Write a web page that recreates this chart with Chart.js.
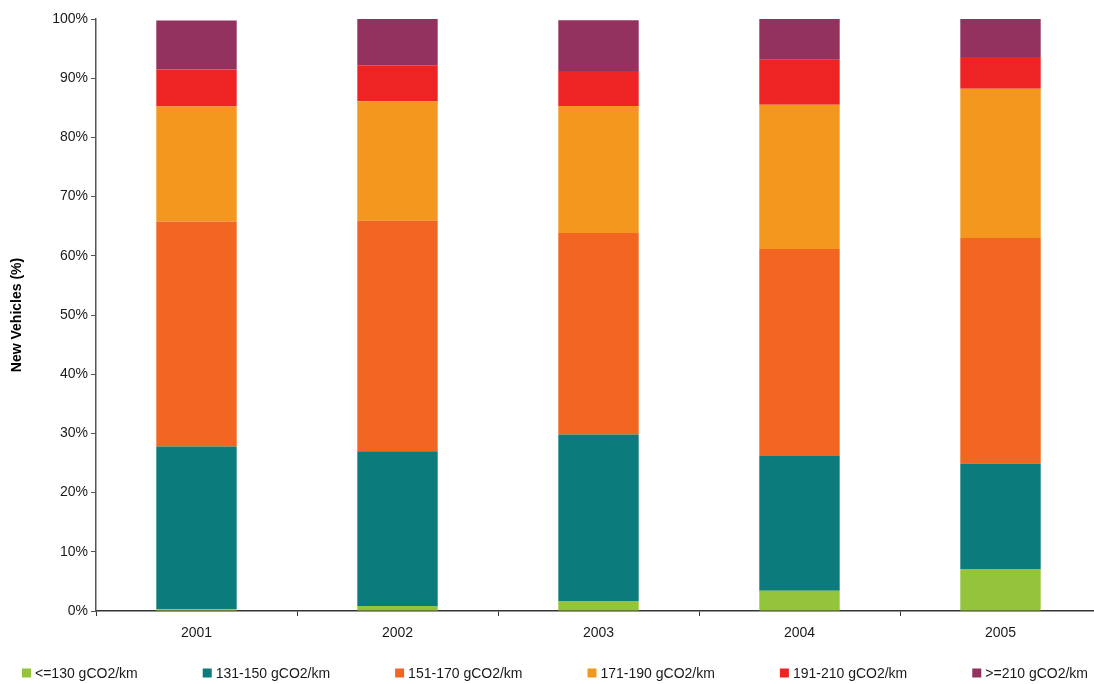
<!DOCTYPE html>
<html>
<head>
<meta charset="utf-8">
<script src="https://cdn.jsdelivr.net/npm/chart.js@4"></script>
<style>
  html, body { margin: 0; padding: 0; background: #fff; overflow: hidden; }
  #wrap { width: 1101px; height: 684px; position: relative; }
</style>
</head>
<body>
<div id="wrap"><canvas id="co2Chart"></canvas></div>
<script>
  // kategori tahun
  const years = ["2001", "2002", "2003", "2004", "2005"];
  const yTicks = [0, 10, 20, 30, 40, 50, 60, 70, 80, 90, 100];

  // persen kendaraan baru per kelas emisi
  const le130   = [0.3, 0.85, 1.7, 3.4, 7.1];
  const g131150 = [27.5, 26.15, 28.1, 22.8, 17.8];
  const g151170 = [38.0, 38.9, 34.05, 34.95, 38.1];
  const g171190 = [19.4, 20.2, 21.45, 24.35, 25.2];
  const g191210 = [6.25, 6.1, 5.9, 7.6, 5.4];
  const ge210   = [8.3, 7.8, 8.6, 6.9, 6.4];

  Chart.defaults.font.family = "'Liberation Sans', Arial, sans-serif";
  Chart.defaults.color = '#1a1a1a';

  function seri(label, data, color) {
    return {
      label: label,
      data: data,
      backgroundColor: color,
      borderWidth: 0,
      barPercentage: 0.4,
      categoryPercentage: 1.0
    };
  }

  // legend bawah: kotak kecil + teks, jarak antar item lebar tapi satu baris
  const legendBawah = {
    id: 'legendBawah',
    afterDraw(chart) {
      const ctx = chart.ctx;
      const box = 9, gap = 4, antar = 65, cy = 673;
      ctx.save();
      ctx.font = "14px 'Liberation Sans', Arial, sans-serif";
      ctx.textBaseline = 'middle';
      ctx.textAlign = 'left';
      const items = chart.data.datasets.map(function(ds) {
        return { text: ds.label, color: ds.backgroundColor, w: box + gap + ctx.measureText(ds.label).width };
      });
      let total = items.reduce(function(s, it) { return s + it.w; }, 0) + antar * (items.length - 1);
      let x = 555 - total / 2;
      items.forEach(function(it) {
        ctx.fillStyle = it.color;
        ctx.fillRect(x, cy - box / 2, box, box);
        ctx.fillStyle = '#1a1a1a';
        ctx.fillText(it.text, x + box + gap, cy + 1);
        x += it.w + antar;
      });
      ctx.restore();
    }
  };

  new Chart(document.getElementById('co2Chart'), {
    type: 'bar',
    data: {
      labels: years,
      datasets: [
        seri("<=130 gCO2/km", le130, "#94c43c"),
        seri("131-150 gCO2/km", g131150, "#0c7b7b"),
        seri("151-170 gCO2/km", g151170, "#f36622"),
        seri("171-190 gCO2/km", g171190, "#f4971e"),
        seri("191-210 gCO2/km", g191210, "#ee2324"),
        seri(">=210 gCO2/km", ge210, "#93325f")
      ]
    },
    plugins: [legendBawah],
    options: {
      responsive: true,
      maintainAspectRatio: false,
      animation: false,
      layout: {
        padding: { left: 0, right: 0, top: 19, bottom: 33 }
      },
      plugins: {
        tooltip: { enabled: false },
        legend: { display: false }
      },
      scales: {
        x: {
          stacked: true,
          offset: true,
          afterFit: function(scale) { scale.height = 40; },
          border: { display: true, color: '#333', width: 1.5 },
          grid: {
            offset: true,
            drawOnChartArea: false,
            drawTicks: true,
            tickLength: 5,
            color: '#333'
          },
          ticks: {
            padding: 9,
            color: '#1a1a1a',
            font: { size: 14 }
          }
        },
        y: {
          stacked: true,
          min: 0,
          max: 100,
          afterFit: function(scale) { scale.width = 96; },
          afterBuildTicks: function(scale) {
            scale.ticks = yTicks.map(function(v) { return { value: v }; });
          },
          border: { display: true, color: '#555', width: 1.5 },
          grid: {
            drawOnChartArea: false,
            drawTicks: true,
            tickLength: 5,
            color: '#555'
          },
          ticks: {
            padding: 3,
            color: '#1a1a1a',
            font: { size: 14 },
            callback: function(value) { return value + '%'; }
          },
          title: {
            display: true,
            text: 'New Vehicles (%)',
            color: '#000',
            padding: { top: 9, bottom: 0 },
            font: { size: 14, weight: 'bold' }
          }
        }
      }
    }
  });
</script>
</body>
</html>
